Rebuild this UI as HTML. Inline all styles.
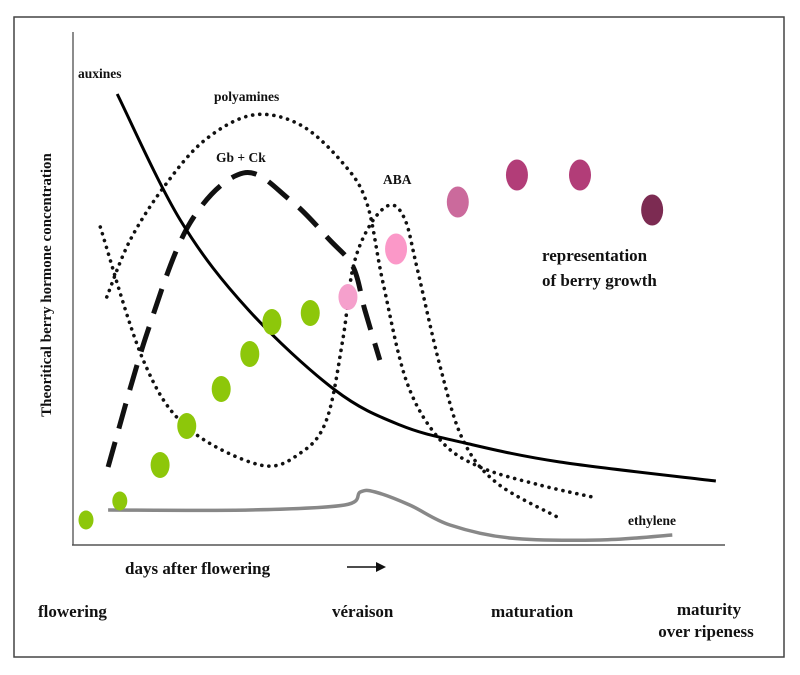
<!DOCTYPE html>
<html><head><meta charset="utf-8"><style>
html,body{margin:0;padding:0;background:#fff;width:800px;height:675px;overflow:hidden}
svg text{font-family:"Liberation Serif",serif;font-weight:bold;fill:#111}
</style></head><body>
<svg id="chart" width="800" height="675" viewBox="0 0 800 675" xmlns="http://www.w3.org/2000/svg">
<rect x="14" y="17" width="770" height="640" fill="none" stroke="#444" stroke-width="1.5"/>
<line x1="73" y1="32" x2="73" y2="545" stroke="#666" stroke-width="1.5"/>
<line x1="72" y1="545" x2="725" y2="545" stroke="#555" stroke-width="1.5"/>
<text transform="translate(51,285) rotate(-90)" text-anchor="middle" font-size="15">Theoritical berry hormone concentration</text>
<text x="125" y="574" font-size="17">days after flowering</text>
<g><line x1="347" y1="567" x2="378" y2="567" stroke="#111" stroke-width="1.5"/><polygon points="376,562 386,567 376,572" fill="#111"/></g>
<text x="38" y="617" font-size="17">flowering</text>
<text x="332" y="617" font-size="17">véraison</text>
<text x="491" y="617" font-size="17">maturation</text>
<text x="709" y="615" font-size="17" text-anchor="middle">maturity</text>
<text x="706" y="637" font-size="17" text-anchor="middle">over ripeness</text>
<g id="series"></g>
<text x="78" y="78" font-size="13.5">auxines</text>
<text x="214" y="101" font-size="13.5">polyamines</text>
<text x="216" y="162" font-size="13.5">Gb + Ck</text>
<text x="383" y="184" font-size="13.5">ABA</text>
<text x="542" y="261" font-size="17">representation</text>
<text x="542" y="286" font-size="17">of berry growth</text>
<text x="628" y="525" font-size="13.5">ethylene</text>
</svg>
<script>
// plot coordinates: x = days scale 0-100, y = concentration 0-100
const auxinX=[6.8,16.5,27,40.3,50.3,60.3,74.9,98.9];
const auxinY=[90.2,65,47,31,24,20.4,16.6,12.8];
const gbckX=[5.4,11.4,18,26.2,33.4,39.5,43.1,44.9,47.2];
const gbckY=[15.6,42.4,64.4,74.4,69,61,55.6,47,37];
const polyX=[5.2,8.8,14.2,20.3,27.7,35,41.5,45.2,47.7,51.4,56.5,62.6,71.8,80.6];
const polyY=[49.6,61,72,81,86,84,76.4,68.4,52.4,32.4,21,15.6,12,9.4];
const abaX=[4.2,10.8,17.5,28.8,35,39,41.5,43.1,45.7,48.8,51.1,52.9,56.5,60,65.2,74.5];
const abaY=[63.6,37,23.6,16,18.4,25,41,55.6,64,68,65,55.6,35.6,21,12.4,5.6];
const ethX=[5.4,27.2,41.8,44.2,46.5,51.8,58,67.2,81.1,92.2];
const ethY=[7,7,8,10.6,10.6,8,4,1.4,1,2];
const berryX=[2,7.2,13.4,17.5,22.8,27.2,30.6,36.5,42.3,49.7,59.2,68.3,78,89.1];
const berryY=[5,8.8,16,23.8,31.2,38.2,44.6,46.4,49.6,59.2,68.6,74,74,67];
const berryColors=['#8dc70a','#8dc70a','#8dc70a','#8dc70a','#8dc70a','#8dc70a','#8dc70a','#8dc70a','#f5a0cc','#fb98c8','#cb6a9c','#b23d78','#b23d78','#7c2b52'];
const xs=v=>73+v*6.5, ys=v=>545-v*5;
const NS='http://www.w3.org/2000/svg', g=document.getElementById('series');
function path(X,Y){const p=X.map((x,i)=>[xs(x),ys(Y[i])]);let d='M'+p[0][0]+','+p[0][1];
for(let i=0;i<p.length-1;i++){const p0=p[i-1]||p[i],p1=p[i],p2=p[i+1],p3=p[i+2]||p2;
d+=' C'+(p1[0]+(p2[0]-p0[0])/6)+','+(p1[1]+(p2[1]-p0[1])/6)+' '+(p2[0]-(p3[0]-p1[0])/6)+','+(p2[1]-(p3[1]-p1[1])/6)+' '+p2[0]+','+p2[1];}return d;}
function line(X,Y,stroke,w,dash,round,name){const e=document.createElementNS(NS,'path');e.setAttribute('d',path(X,Y));e.setAttribute('fill','none');e.setAttribute('stroke',stroke);e.setAttribute('stroke-width',w);if(dash)e.setAttribute('stroke-dasharray',dash);e.setAttribute('stroke-linecap',round?'round':'butt');


g.appendChild(e);}
line(ethX,ethY,'#888',3.5,null,false,'ethylene-line');
line(polyX,polyY,'#111',3.6,'0.1 7',true,'polyamines-line');
line(abaX,abaY,'#111',3.6,'0.1 7',true,'aba-line');
line(gbckX,gbckY,'#111',5,'26 14',false,'gb-ck-line');
line(auxinX,auxinY,'#000',3,null,false,'auxines-line');
berryX.forEach((x,i)=>{const e=document.createElementNS(NS,'ellipse');e.setAttribute('cx',xs(x));e.setAttribute('cy',ys(berryY[i]));
const rx=i<2?7.5:(i<9?9.5:11);const ry=i<2?9.5:(i<9?13:15.5);
e.setAttribute('rx',rx);e.setAttribute('ry',ry);e.setAttribute('fill',berryColors[i]);


g.appendChild(e);});
</script>
</body></html>
